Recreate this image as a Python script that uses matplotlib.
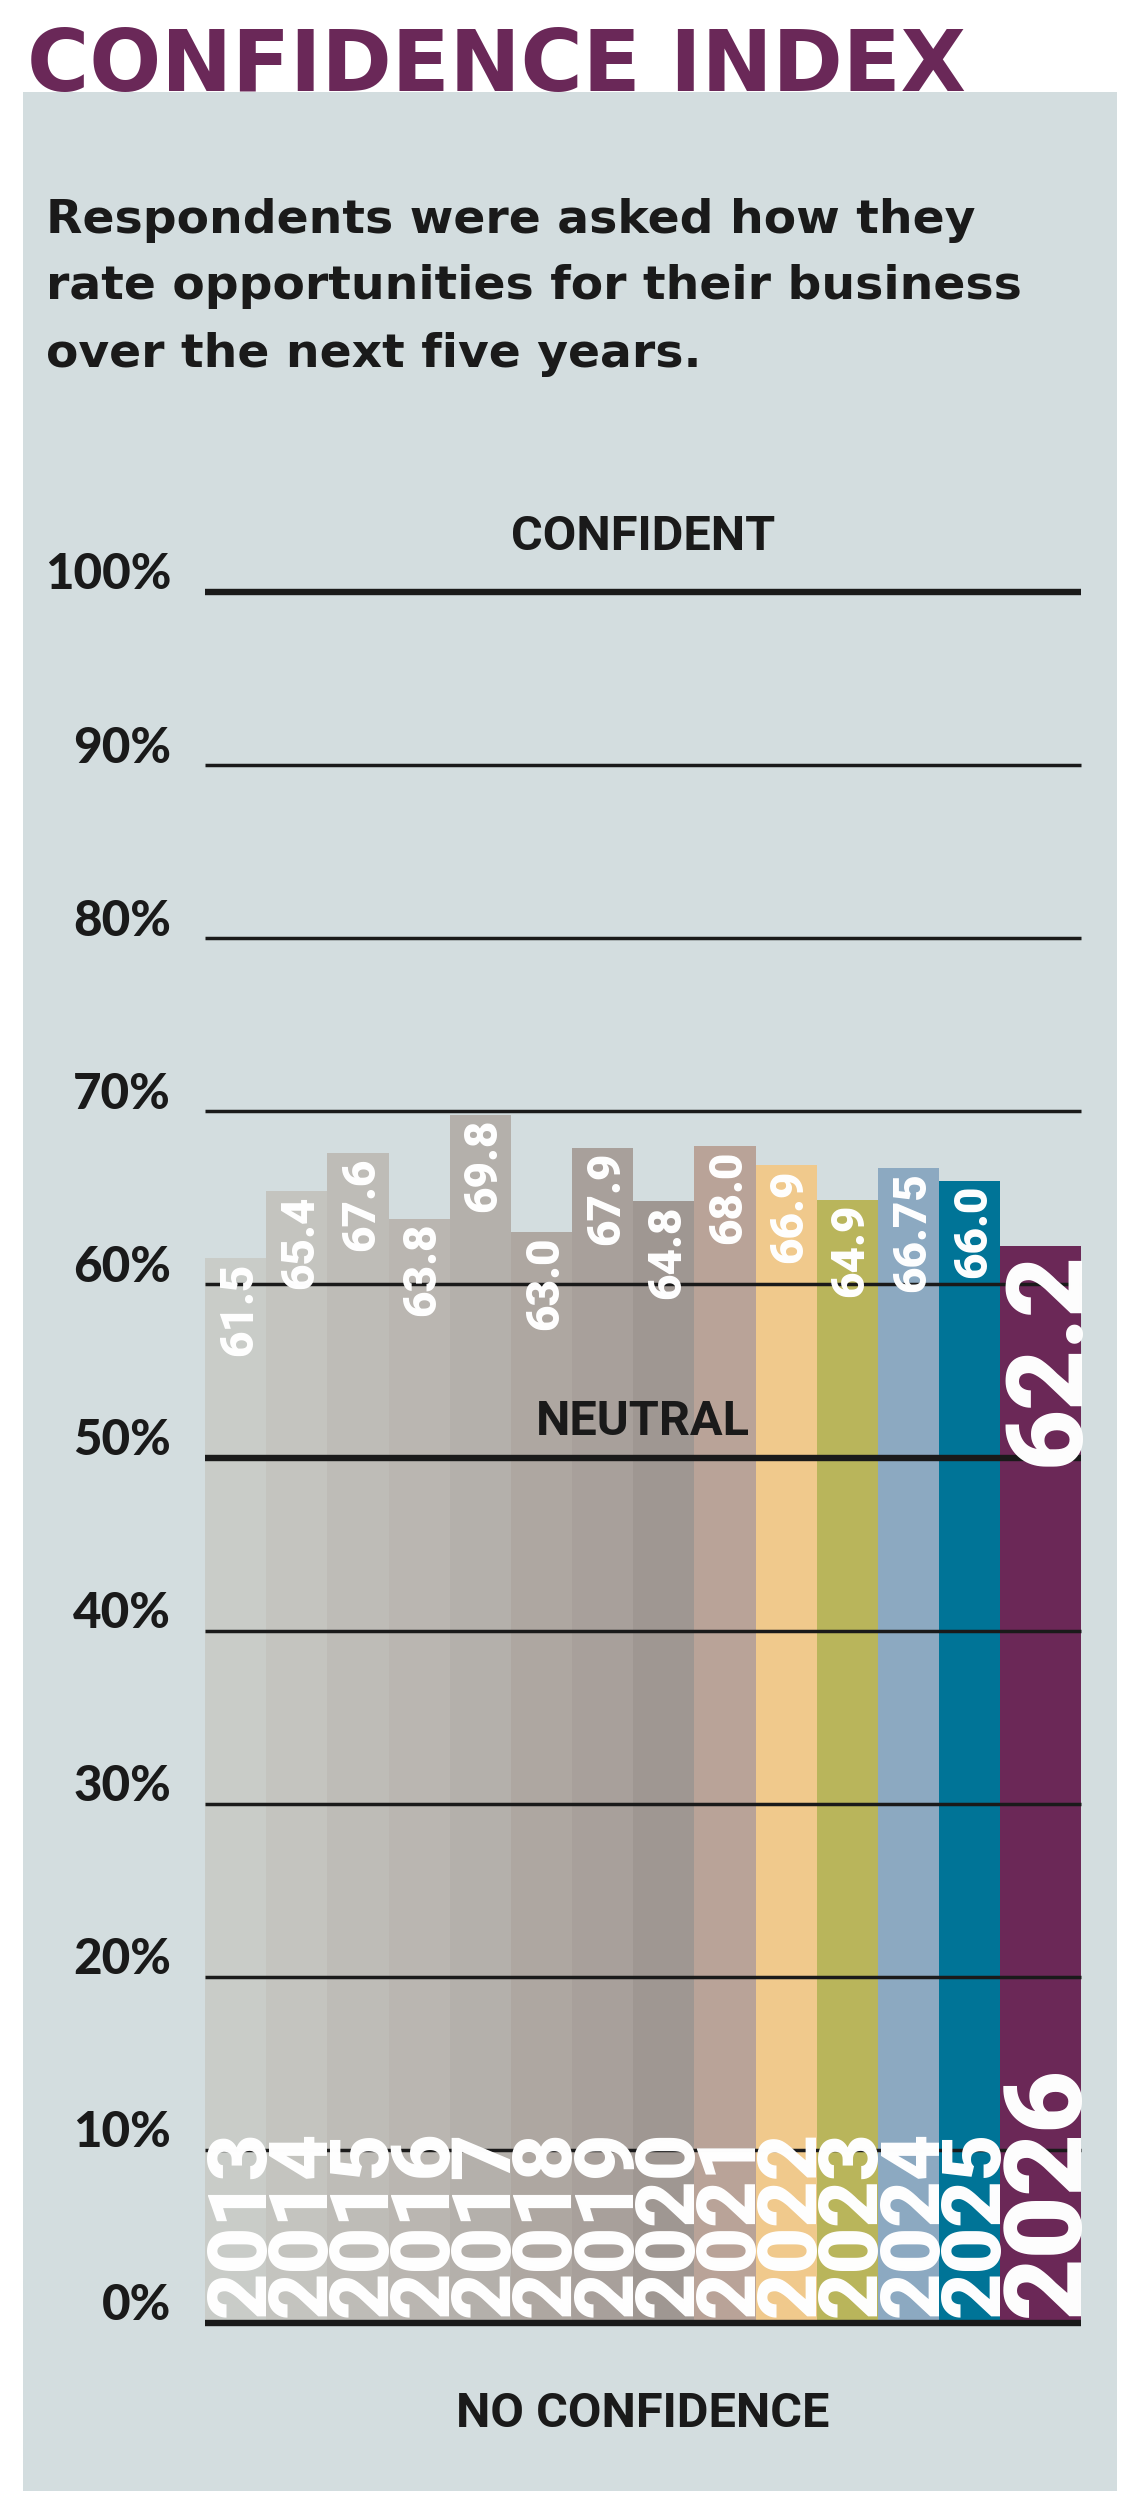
import matplotlib
matplotlib.use("Agg")
import matplotlib.pyplot as plt
from matplotlib.patches import Rectangle
from matplotlib.transforms import blended_transform_factory, offset_copy

# ---------------- data ----------------
years = ["2013", "2014", "2015", "2016", "2017", "2018", "2019",
         "2020", "2021", "2022", "2023", "2024", "2025", "2026"]
values = [61.5, 65.4, 67.6, 63.8, 69.8, 63.0, 67.9,
          64.8, 68.0, 66.9, 64.9, 66.75, 66.0, 62.2]
value_labels = ["61.5", "65.4", "67.6", "63.8", "69.8", "63.0", "67.9",
                "64.8", "68.0", "66.9", "64.9", "66.75", "66.0", "62.2"]
bar_colors = ["#C9CCC8", "#C4C4BF", "#BEBCB7", "#BAB6B1", "#B4B0AB", "#AEA7A1",
              "#A8A09B", "#9F9792", "#B9A398", "#F0C98C", "#B9B55B", "#8CA9C1",
              "#007497", "#6B2857"]
bar_widths = [1.0] * 13 + [1.32]
y_ticks = [0, 10, 20, 30, 40, 50, 60, 70, 80, 90, 100]
y_tick_labels = [f"{t}%" for t in y_ticks]
major_lines = [0, 50, 100]

title = "CONFIDENCE INDEX"
subtitle_lines = ["Respondents were asked how they",
                  "rate opportunities for their business",
                  "over the next five years."]
top_label = "CONFIDENT"
mid_label = "NEUTRAL"
bottom_label = "NO CONFIDENCE"

# ---------------- figure ----------------
W, H = 1140, 2511
DPI = 100
fig = plt.figure(figsize=(W / DPI, H / DPI), dpi=DPI)
fig.patch.set_facecolor("white")

def fx(px):
    return px / W

def fy(py):
    return 1 - py / H

PURPLE = "#6A2858"
PANEL = "#D3DDDF"
INK = "#1A1A1A"

# background panel
fig.patches.append(Rectangle((fx(23), fy(2491)), fx(1117) - fx(23), fy(92) - fy(2491),
                             transform=fig.transFigure, facecolor=PANEL,
                             edgecolor="none", zorder=-5))

WIDE = ["DejaVu Sans"]
HEAVY = ["Lato", "DejaVu Sans"]
NARROW = ["Roboto", "DejaVu Sans"]
NUM = ["Roboto", "DejaVu Sans"]
CAP = 0.711  # cap-height fraction of the number font

fig.text(fx(27), fy(91), title, color=PURPLE, fontsize=61, fontweight="bold",
         family=WIDE, ha="left", va="baseline", zorder=5)

sub_baselines = [233, 299, 367]
for line, b in zip(subtitle_lines, sub_baselines):
    fig.text(fx(46), fy(b), line, color=INK, fontsize=34, fontweight="bold",
             family=WIDE, ha="left", va="baseline", zorder=5)

# ---------------- axes ----------------
ax = fig.add_axes([fx(205), fy(2323), fx(1081) - fx(205), fy(592) - fy(2323)])
ax.set_facecolor("none")
ax.axis("off")
ax.set_zorder(2)

lefts = []
acc = 0.0
for w in bar_widths:
    lefts.append(acc)
    acc += w
ax.bar(lefts, values, width=bar_widths, align="edge", color=bar_colors,
       edgecolor="none", zorder=2)
ax.set_xlim(0, acc)
ax.set_ylim(0, 100)

for t in y_ticks:
    lw = 4.6 if t in major_lines else 2.5
    ax.axhline(t, color=INK, lw=lw, zorder=3, clip_on=False,
               solid_capstyle="butt")

# y tick labels
tr = blended_transform_factory(fig.transFigure, ax.transData)
for t, lab in zip(y_ticks, y_tick_labels):
    ax.text(fx(171), t + 0.15, lab, transform=tr, ha="right", va="baseline",
            fontsize=35.5, fontweight="black", family=HEAVY, color=INK, zorder=5)

# value and year labels (rotated, glyphs centred across each bar)
for i, (l, w, v, vl, yr) in enumerate(zip(lefts, bar_widths, values,
                                           value_labels, years)):
    xc = l + w / 2
    big = i == len(years) - 1
    fs_v = 76 if big else 33
    fs_y = 78 if big else 58
    tv = offset_copy(ax.transData, fig=fig, x=CAP * fs_v / 2, y=0, units="points")
    ty = offset_copy(ax.transData, fig=fig, x=CAP * fs_y / 2, y=0, units="points")
    ax.text(xc, v - 0.25, vl, transform=tv, rotation=90, rotation_mode="anchor",
            ha="right", va="baseline", color="white",
            fontsize=fs_v, fontweight="black", family=NUM, zorder=4)
    ax.text(xc, 0.35, yr, transform=ty, rotation=90, rotation_mode="anchor",
            ha="left", va="baseline", color="white",
            fontsize=fs_y, fontweight="black", family=NUM, zorder=4)

xmid = acc / 2
ax.text(xmid, 102.4, top_label, ha="center", va="baseline", fontsize=35,
        fontweight="bold", family=NARROW, color=INK, zorder=5)
ax.text(xmid, 51.3, mid_label, ha="center", va="baseline", fontsize=35,
        fontweight="bold", family=NARROW, color=INK, zorder=5)
ax.text(xmid, -6.0, bottom_label, ha="center", va="baseline", fontsize=35,
        fontweight="bold", family=NARROW, color=INK, zorder=5)

fig.savefig("out.png", dpi=DPI, facecolor="white")
